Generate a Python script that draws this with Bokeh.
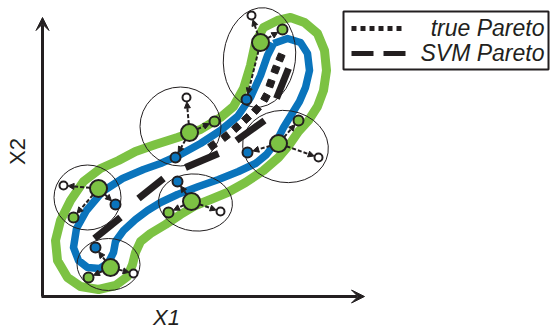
import numpy as np
from bokeh.plotting import figure
from bokeh.models import Range1d, Arrow, NormalHead, VeeHead, ColumnDataSource
from bokeh.core.properties import value
from bokeh.embed import file_html
from bokeh.resources import INLINE

# ---- schematic data (reference pixel space, y downwards) ----
green_x = [255, 263, 277, 290, 304, 317, 324, 326, 323, 317, 308, 298, 289, 278, 263, 245, 227, 210, 195, 180, 165, 150, 140, 135, 132, 127, 115, 98, 80, 67, 57, 55, 60, 70, 83, 100, 118, 135, 155, 177, 200, 220, 233, 243, 250, 255]
green_y = [42, 27, 20, 17, 22, 33, 50, 70, 90, 106, 120, 131, 144, 157, 170, 182, 192, 199, 205, 214, 224, 233, 241, 252, 264, 276, 285, 289, 286, 277, 260, 240, 220, 200, 181, 168, 160, 151, 144, 137, 129, 117, 106, 88, 65, 42]

blue_x = [273, 287, 300, 307, 309, 305, 299, 291, 283, 276, 266, 255, 238, 218, 198, 177, 160, 147, 135, 123, 115, 113, 108, 99, 87, 78, 73, 76, 86, 102, 122, 143, 160, 180, 200, 220, 237, 250, 260, 267, 273]
blue_y = [43, 38, 42, 53, 70, 87, 101, 114, 127, 141, 154, 163, 171, 179, 186, 194, 202, 210, 219, 230, 241, 252, 262, 268, 267, 260, 247, 228, 210, 191, 178, 169, 163, 154, 143, 130, 116, 97, 75, 55, 43]

ell_x = [259, 180, 285, 87, 195, 108]
ell_y = [57, 126, 146, 197, 202, 264]
ell_w = [72, 81, 86, 67, 74, 63]
ell_h = [100, 79, 72, 65, 57, 52]
ell_angle = [-0.12, 0.0, -0.15, 0.0, -0.1, 0.0]

big_x = [260, 189, 278, 98, 191, 110]
big_y = [42, 132, 143, 188, 201, 267]

sat_cluster = [0, 0, 0, 1, 1, 1, 2, 2, 2, 3, 3, 3, 4, 4, 4, 5, 5, 5]
sat_kind = ["open", "green", "blue"] * 6
sat_x = [251, 282, 246, 186, 214, 175, 318, 298, 247, 63, 73, 115, 220, 168, 177, 133, 88, 95]
sat_y = [15, 29, 99, 97, 121, 157, 157, 120, 152, 185, 217, 204, 211, 212, 181, 273, 277, 247]

true_x = [212, 225, 236, 246, 256, 265, 270, 275, 280]
true_y = [145, 136, 127, 118, 109, 97, 83, 69, 57]

svm_x0 = [94, 138, 185, 236, 276]
svm_y0 = [238, 198, 167, 140, 98]
svm_x1 = [120, 163, 218, 264, 288]
svm_y1 = [217, 178, 153, 120, 68]

legend_labels = ["true Pareto", "SVM Pareto"]
axis_labels = ["X1", "X2"]

GREEN = "#7CC243"
BLUE = "#0A74BC"
INK = "#231F20"

p = figure(width=550, height=331, x_range=Range1d(0, 550), y_range=Range1d(331, 0),
           output_backend="svg", toolbar_location=None, min_border=0,
           x_axis_location=None, y_axis_location=None)
p.grid.visible = False
p.outline_line_color = None
p.background_fill_color = "white"

# bands
p.line(green_x, green_y, line_color=GREEN, line_width=9, line_join="round")
p.line(blue_x, blue_y, line_color=BLUE, line_width=7.5, line_join="round")

# ellipses
p.ellipse(x=ell_x, y=ell_y, width=ell_w, height=ell_h, angle=ell_angle,
          fill_color=None, line_color=INK, line_width=1)

# true pareto squares
tx = np.array(true_x, float); ty = np.array(true_y, float)
dx = np.gradient(tx); dy = np.gradient(ty)
ang = np.arctan2(-dy, dx)
p.scatter(tx, ty, marker="square", size=7, angle=ang, fill_color=INK, line_color=INK)

# SVM pareto dashes
p.segment(svm_x0, svm_y0, svm_x1, svm_y1, line_color=INK, line_width=7, line_cap="butt")

# arrows
R_BIG = 8.5
r_kind = {"open": 4.5, "green": 5.5, "blue": 5.5}
xs, ys, xe, ye = [], [], [], []
for c, k, sx, sy in zip(sat_cluster, sat_kind, sat_x, sat_y):
    bx, by = big_x[c], big_y[c]
    vx, vy = sx - bx, sy - by
    d = (vx ** 2 + vy ** 2) ** 0.5
    ux, uy = vx / d, vy / d
    xs.append(bx + R_BIG * ux); ys.append(by + R_BIG * uy)
    xe.append(sx - r_kind[k] * ux); ye.append(sy - r_kind[k] * uy)
asrc = ColumnDataSource(dict(xs=xs, ys=ys, xe=xe, ye=ye))
p.add_layout(Arrow(end=NormalHead(size=6, fill_color=INK, line_color=INK, line_width=1),
                   x_start="xs", y_start="ys", x_end="xe", y_end="ye", source=asrc,
                   line_color=INK, line_width=2, line_dash="4 2"))

# dots
fills = {"open": "white", "green": GREEN, "blue": BLUE}
sizes = {"open": 8, "green": 10, "blue": 10}
p.scatter(sat_x, sat_y, size=[sizes[k] for k in sat_kind], fill_color=[fills[k] for k in sat_kind],
          line_color=INK, line_width=2)
p.scatter(big_x, big_y, size=17, fill_color=GREEN, line_color=INK, line_width=2)

# axes with arrows
p.add_layout(Arrow(end=VeeHead(size=13, fill_color=INK, line_color=INK),
                   x_start=42, y_start=296, x_end=42, y_end=17, line_width=3, line_color=INK))
p.add_layout(Arrow(end=VeeHead(size=13, fill_color=INK, line_color=INK),
                   x_start=41, y_start=296, x_end=364, y_end=296, line_width=3, line_color=INK))
p.text(x=[166], y=[317], text=[axis_labels[0]], text_align="center", text_baseline="middle",
       text_font=value("Liberation Sans"), text_font_style="italic", text_font_size="22px", text_color=INK)
p.text(x=[17], y=[151], text=[axis_labels[1]], angle=np.pi / 2, text_align="center", text_baseline="middle",
       text_font=value("Liberation Sans"), text_font_size="22px", text_color=INK)

# legend
p.quad(left=[343], right=[548], top=[11], bottom=[69], fill_color="white", line_color=INK, line_width=2)
p.line([351, 402], [28, 28], line_color=INK, line_width=5, line_dash="5 4")
p.line([351, 405], [53, 53], line_color=INK, line_width=5, line_dash="22 10")
p.text(x=[544, 544], y=[27, 52], text=legend_labels, text_align="right", text_baseline="middle",
       text_font=value("Liberation Sans"), text_font_style="italic", text_font_size="23px", text_color=INK)

open("out.html", "w").write(file_html(p, INLINE))
